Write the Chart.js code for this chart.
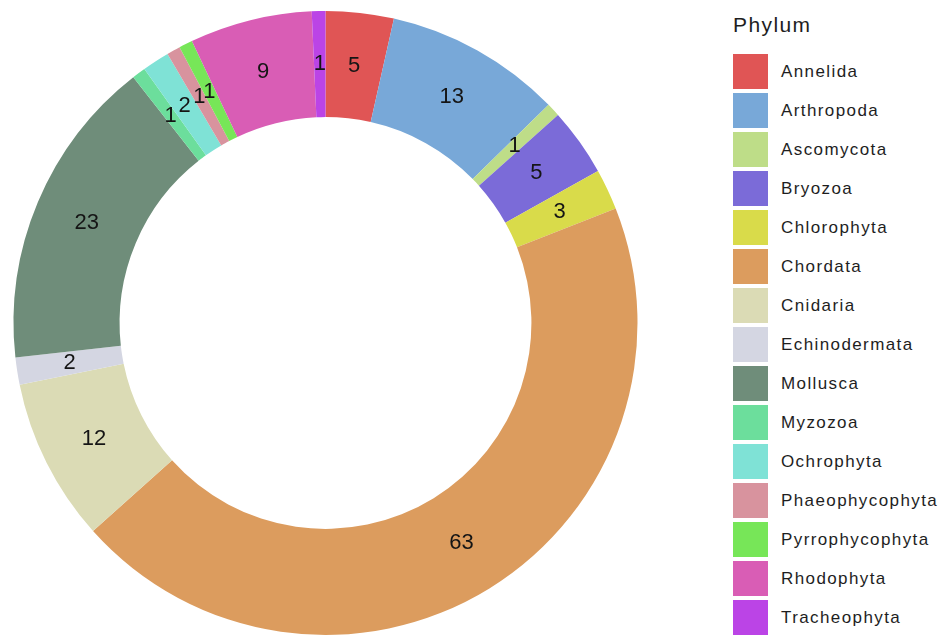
<!DOCTYPE html>
<html>
<head>
<meta charset="utf-8">
<script src="https://cdn.jsdelivr.net/npm/chart.js@4.4.1/dist/chart.umd.min.js"></script>
<style>
  body { margin: 0; background: #fff; font-family: "Liberation Sans", Arial, sans-serif; }
  #wrap { position: relative; width: 942px; height: 638px; }
  #chartBox { position: absolute; left: 0; top: 0; width: 651px; height: 638px; }
  #legend { position: absolute; left: 733px; top: 10px; color: #1e1e1e; letter-spacing: 1.4px; }
  #legend .title { font-size: 21px; height: 42px; line-height: 30px; }
  #legend .item { display: flex; align-items: center; height: 39px; }
  #legend .box { width: 35px; height: 35px; margin-right: 13px; }
  #legend .lbl { font-size: 17px; }
</style>
</head>
<body>
<div id="wrap">
  <div id="chartBox"><canvas id="phylumChart"></canvas></div>
  <div id="legend"></div>
</div>
<script>
var phyla = ['Annelida', 'Arthropoda', 'Ascomycota', 'Bryozoa', 'Chlorophyta', 'Chordata',
  'Cnidaria', 'Echinodermata', 'Mollusca', 'Myzozoa', 'Ochrophyta', 'Phaeophycophyta',
  'Pyrrophycophyta', 'Rhodophyta', 'Tracheophyta'];
var counts = [5, 13, 1, 5, 3, 63, 12, 2, 23, 1, 2, 1, 1, 9, 1];
var colours = ['#e05555', '#78a8d8', '#bedd88', '#7b6bd8', '#d9db4a', '#dc9c5e',
  '#dbdbb5', '#d4d6e2', '#6f8d7a', '#6cde9c', '#7fe2d6', '#d8939e',
  '#77e658', '#d95db5', '#bb44e6'];

// numbers drawn in the middle of each ring segment
var sliceLabels = {
  id: 'sliceLabels',
  afterDatasetsDraw: function(chart) {
    var ctx = chart.ctx;
    var meta = chart.getDatasetMeta(0);
    ctx.save();
    ctx.font = '22px "Liberation Sans", Arial, sans-serif';
    ctx.fillStyle = '#151515';
    ctx.textAlign = 'center';
    ctx.textBaseline = 'middle';
    meta.data.forEach(function(arc, i) {
      var p = arc.tooltipPosition();
      ctx.fillText(String(counts[i]), p.x, p.y);
    });
    ctx.restore();
  }
};

new Chart(document.getElementById('phylumChart'), {
  type: 'doughnut',
  data: {
    labels: phyla,
    datasets: [{
      data: counts,
      backgroundColor: colours,
      borderWidth: 0
    }]
  },
  options: {
    responsive: true,
    maintainAspectRatio: false,
    animation: false,
    cutout: '66%',
    layout: { padding: { top: 11, bottom: 3, left: 12, right: 12 } },
    plugins: {
      legend: { display: false },
      tooltip: { enabled: false }
    }
  },
  plugins: [sliceLabels]
});

var legend = document.getElementById('legend');
var html = '<div class="title">Phylum</div>';
for (var i = 0; i < phyla.length; i++) {
  html += '<div class="item"><div class="box" style="background:' + colours[i] + '"></div>' +
    '<div class="lbl">' + phyla[i] + '</div></div>';
}
legend.innerHTML = html;
</script>
</body>
</html>
